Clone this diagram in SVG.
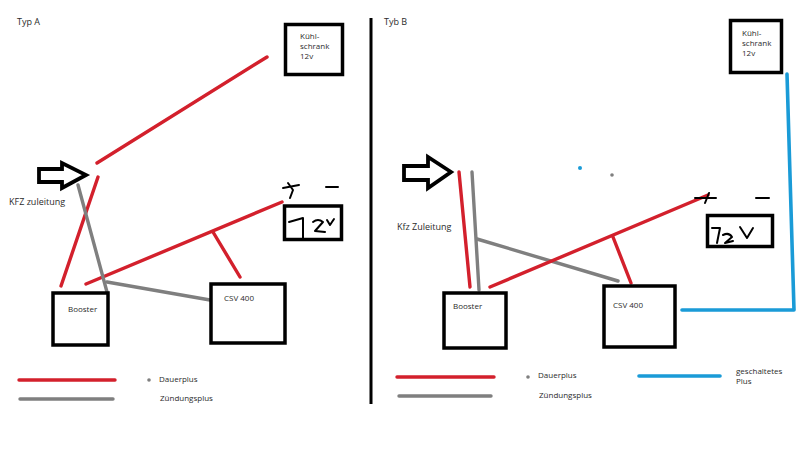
<svg xmlns="http://www.w3.org/2000/svg" width="800" height="450" viewBox="0 0 800 450">
<style>
.box{fill:#fff;stroke:#000;stroke-width:3.500}
.red,.gray,.blue,.hand{fill:none;stroke-linecap:round;stroke-linejoin:round}
.red{stroke:#d3202c;stroke-width:3.400}
.gray{stroke:#7f7f7f;stroke-width:3.400}
.blue{stroke:#1a9bd7;stroke-width:3.600}
.hand{stroke:#000;stroke-width:2}
.div{fill:none;stroke:#000;stroke-width:3}
.arrow{fill:#fff;stroke:#000;stroke-width:3.800;stroke-linejoin:miter}
text{font-family:"Open Sans","DejaVu Sans",sans-serif;fill:#2b2b2b;font-size:8px}
.t9{font-size:9px}
</style>
<rect width="800" height="450" fill="#fff"/>
<line class="div" x1="371" y1="18" x2="371" y2="404"/>
<g id="connectors">
<path class="red" d="M97 163L267 57"/>
<path class="red" d="M98 177L61 286"/>
<path class="red" d="M86 284L282 202"/>
<path class="red" d="M213 232L240 277"/>
<path class="gray" d="M78 185L107 292"/>
<path class="gray" d="M107 282L210 300"/>
<path class="red" d="M459 172L470 287"/>
<path class="gray" d="M472 172L479 290"/>
<path class="gray" d="M477 239L618 281"/>
<path class="red" d="M490 287L708 195"/>
<path class="red" d="M613 237L631 283"/>
<path class="blue" d="M682 310H794L787 74"/>
</g>
<g id="kuehl-a"><rect class="box" x="285.500" y="24.500" width="57" height="50"/><text x="300" y="39">Kühl-</text><text x="300" y="49">schrank</text><text x="300" y="59">12v</text></g>
<g id="kuehl-b"><rect class="box" x="730.500" y="20.500" width="51" height="52"/><text x="742" y="36">Kühl-</text><text x="742" y="46">schrank</text><text x="742" y="56">12v</text></g>
<g id="booster-a"><rect class="box" x="53" y="293" width="55" height="52"/><text x="68" y="312">Booster</text></g>
<g id="csv-a"><rect class="box" x="211" y="284" width="74" height="59"/><text x="224" y="301">CSV 400</text></g>
<g id="batt-a"><rect class="box" x="284.500" y="206" width="57" height="33.500"/>
<path class="hand" d="M289 222L303 218V238M313 222Q318 218 323 222L315 231L325 232M327 220L330 225L334 219"/>
<path class="hand" d="M288 183L293 190L290 198M283 188L299 185M326 187H338"/></g>
<g id="booster-b"><rect class="box" x="444" y="293" width="62" height="55"/><text x="453" y="309">Booster</text></g>
<g id="csv-b"><rect class="box" x="604" y="286" width="71" height="61"/><text x="613" y="308">CSV 400</text></g>
<g id="batt-b"><rect class="box" x="707.500" y="215.500" width="65" height="31"/>
<path class="hand" d="M712 228H720L717 243M723 235Q729 232 732 237L725 243L733 241M740 227L747 238L753 228"/>
<path class="hand" d="M695 198H716M709 193L705 203M756 198H769"/></g>
<g id="arrow-a"><path class="arrow" d="M39 169H62V163L86 175L62 188V182H39Z"/></g>
<g id="arrow-b"><path class="arrow" d="M404 166H428V157L451 172L428 188V180H404Z"/></g>
<g id="labels">
<text class="t9" x="17" y="25">Typ A</text>
<text class="t9" x="384" y="25">Tyb B</text>
<text class="t9" x="9" y="205">KFZ zuleitung</text>
<text class="t9" x="397" y="230">Kfz Zuleitung</text>
<text x="159" y="382">Dauerplus</text>
<text x="160" y="401">Zündungsplus</text>
<text x="538" y="378">Dauerplus</text>
<text x="539" y="398">Zündungsplus</text>
<text x="736" y="374">geschaltetes</text>
<text x="736" y="384">Plus</text>
</g>
<g id="legend">
<path class="red" d="M19 380H115"/>
<path class="gray" d="M20 399H113"/>
<circle cx="149" cy="380" r="1.800" fill="#7f7f7f"/>
<path class="red" d="M397 377H494"/>
<path class="gray" d="M399 396H491"/>
<circle cx="528" cy="377" r="1.800" fill="#7f7f7f"/>
<path class="blue" d="M639 376H720"/>
<circle cx="580" cy="168" r="2" fill="#1a9bd7"/>
<circle cx="612" cy="175" r="1.800" fill="#7f7f7f"/>
</g>
</svg>
